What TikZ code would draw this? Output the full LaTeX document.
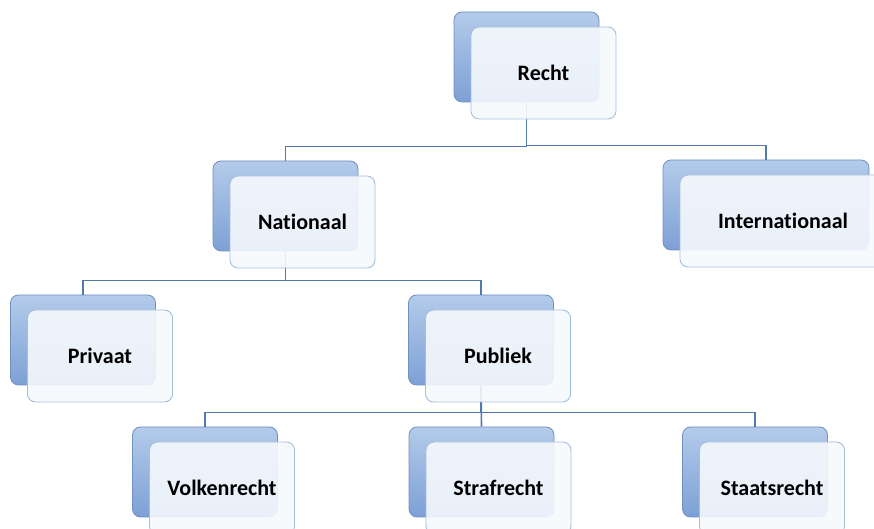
\documentclass[tikz,border=0pt]{standalone}
\usepackage{fontspec}
\setmainfont{Carlito}[Ligatures=NoCommon]
\usetikzlibrary{calc}

\definecolor{boxtop}{HTML}{B4CBEA}
\definecolor{boxbottom}{HTML}{7DA0D5}
\definecolor{boxline}{HTML}{7090C0}
\definecolor{cardfill}{HTML}{F6F9FD}
\definecolor{cardline}{HTML}{A4BEDF}
\definecolor{wire}{HTML}{5279AE}

\begin{document}
\begin{tikzpicture}[x=1pt,y=1pt,
	back/.style={rounded corners=8pt, draw=boxline, line width=0.8pt,
		top color=boxtop, bottom color=boxbottom,
		minimum width=145pt, minimum height=90pt},
	card/.style={rounded corners=8pt, draw=cardline, line width=0.9pt,
		fill=cardfill, fill opacity=0.9, text opacity=1,
		minimum width=145pt, minimum height=92pt,
		font=\fontsize{22}{24}\selectfont\bfseries},
	wide/.style={minimum width=206pt},
	wire/.style={draw=wire, line width=1.6pt}]

	% ---- parameters

	\def\dx{17}
	\def\dy{-16}
	\def\bus{14}

	% ---- page

	\useasboundingbox (0,0) rectangle (874,529);
	\clip (0,0) rectangle (874,529);

	% ---- back boxes

	\node[back] (recht) at (526.5,472) {};
	\node[back] (nat) at (285.5,323) {};
	\node[back, wide] (intl) at (766,324) {};
	\node[back] (priv) at (83,189) {};
	\node[back] (publ) at (481,189) {};
	\node[back] (volk) at (205,57) {};
	\node[back] (straf) at (481.5,57) {};
	\node[back] (staats) at (755,57) {};

	% ---- connectors

	\draw[wire] (recht.south) |- ($(nat.north)+(0,\bus)$) -- (nat.north);
	\draw[wire] (recht.south) |- ($(intl.north)+(0,\bus)$) -- (intl.north);

	\draw[wire] (nat.south) |- ($(priv.north)+(0,\bus)$) -- (priv.north);
	\draw[wire] (nat.south) |- ($(publ.north)+(0,\bus)$) -- (publ.north);

	\draw[wire] (publ.south) |- ($(volk.north)+(0,\bus)$) -- (volk.north);
	\draw[wire] (publ.south) -- (straf.north);
	\draw[wire] (publ.south) |- ($(staats.north)+(0,\bus)$) -- (staats.north);

	% ---- cards

	\node[card] (rechtT) at ($(recht)+(\dx,\dy)$) {Recht};
	\node[card] (natT) at ($(nat)+(\dx,\dy)$) {Nationaal};
	\node[card, wide] (intlT) at ($(intl)+(\dx,\dy)$) {Internationaal};
	\node[card] (privT) at ($(priv)+(\dx,\dy)$) {Privaat};
	\node[card] (publT) at ($(publ)+(\dx,\dy)$) {Publiek};
	\node[card] (volkT) at ($(volk)+(\dx,\dy)$) {Volkenrecht};
	\node[card] (strafT) at ($(straf)+(\dx,\dy)$) {Strafrecht};
	\node[card] (staatsT) at ($(staats)+(\dx,\dy)$) {Staatsrecht};

\end{tikzpicture}
\end{document}
